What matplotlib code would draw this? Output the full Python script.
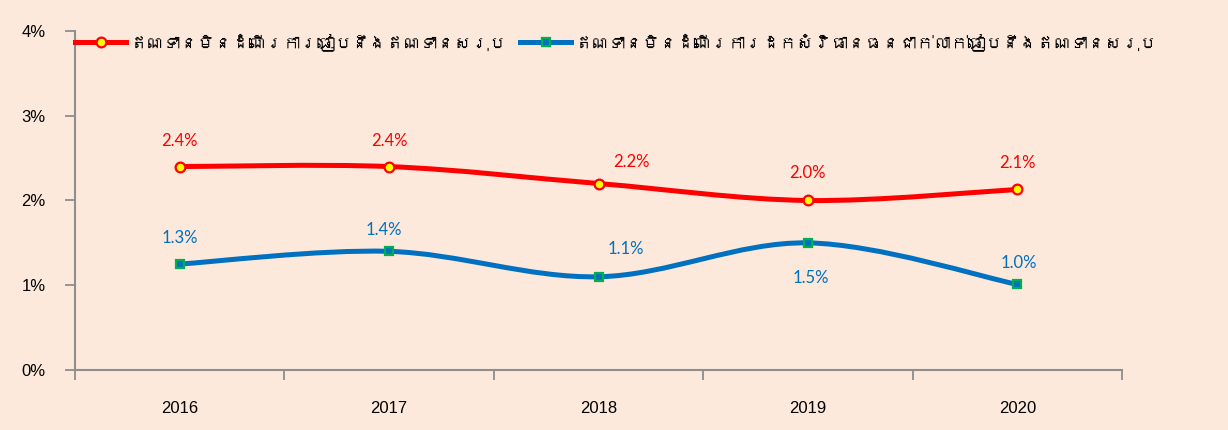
import numpy as np
import matplotlib
matplotlib.use("Agg")
import matplotlib.pyplot as plt
from matplotlib.path import Path
from matplotlib.patches import PathPatch
from matplotlib.lines import Line2D
from matplotlib import font_manager
from matplotlib.ft2font import FT2Font

# Data
years = ["2016", "2017", "2018", "2019", "2020"]
npl_total = [2.4, 2.4, 2.2, 2.0, 2.13]
npl_net = [1.25, 1.40, 1.10, 1.50, 1.01]
npl_total_labels = ["2.4%", "2.4%", "2.2%", "2.0%", "2.1%"]
npl_net_labels = ["1.3%", "1.4%", "1.1%", "1.5%", "1.0%"]
series_names = [
    "ឥណទានមិនដំណើរការធៀបនឹងឥណទានសរុប",
    "ឥណទានមិនដំណើរការដកសំវិធានធនជាក់លាក់ធៀបនឹងឥណទានសរុប",
]
y_ticks = [0, 1, 2, 3, 4]

BG = "#FCE9DC"
RED = "#FF0000"
BLUE = "#0070C0"
GREEN = "#00B050"
GREY = "#8E8E8E"


def find_khmer_font():
    # look for any installed font that has Khmer glyphs
    for f in font_manager.fontManager.ttflist:
        try:
            if 0x1780 in FT2Font(f.fname).get_charmap():
                return f.name
        except Exception:
            continue
    return None


khmer = find_khmer_font()
legend_family = [khmer, "DejaVu Sans"] if khmer else ["DejaVu Sans"]


def smooth_path(xs, ys):
    """Catmull-Rom curve through the points, as cubic bezier segments."""
    pts = np.column_stack([xs, ys]).astype(float)
    ext = np.vstack([pts[0], pts, pts[-1]])
    verts = [tuple(pts[0])]
    codes = [Path.MOVETO]
    for i in range(1, len(ext) - 2):
        p0, p1, p2, p3 = ext[i - 1], ext[i], ext[i + 1], ext[i + 2]
        c1 = p1 + (p2 - p0) / 6.0
        c2 = p2 - (p3 - p1) / 6.0
        verts += [tuple(c1), tuple(c2), tuple(p2)]
        codes += [Path.CURVE4] * 3
    return Path(verts, codes)


fig = plt.figure(figsize=(12.28, 4.30), dpi=100, facecolor=BG)
ax = fig.add_axes([0.0611, 0.1395, 0.8526, 0.7885], facecolor=BG)

x = np.arange(len(years))

for ys, col in [(npl_total, RED), (npl_net, BLUE)]:
    patch = PathPatch(smooth_path(x, ys), facecolor="none", edgecolor=col,
                      lw=3.6, capstyle="round", joinstyle="round", zorder=3)
    ax.add_patch(patch)

ax.plot(x, npl_total, ls="none", marker="o", ms=7, mfc="#FFFF00", mec=RED, mew=1.6, zorder=4)
ax.plot(x, npl_net, ls="none", marker="s", ms=6, mfc=BLUE, mec=GREEN, mew=1.6, zorder=4)

# data labels (offsets in pixels)
red_off = [(0, 26), (0, 26), (33, 22), (0, 27), (0, 26)]
blue_off = [(0, 26), (-5, 21), (27, 28), (3, -35), (2, 21)]
for i in range(len(years)):
    ax.annotate(npl_total_labels[i], (x[i], npl_total[i]), xytext=red_off[i],
                textcoords="offset pixels", ha="center", va="center",
                color=RED, fontsize=12, family="Lato")
    ax.annotate(npl_net_labels[i], (x[i], npl_net[i]), xytext=blue_off[i],
                textcoords="offset pixels", ha="center", va="center",
                color=BLUE, fontsize=12, family="Lato")

ax.set_xlim(-0.5, len(years) - 0.5)
ax.set_ylim(0, 4)
ax.set_yticks(y_ticks)
ax.set_yticklabels([f"{v}%" for v in y_ticks], fontsize=12, family="Liberation Sans")
ax.set_xticks(np.arange(-0.5, len(years)), minor=False)
ax.set_xticklabels([])
ax.set_xticks(x, minor=True)
ax.set_xticklabels(years, minor=True, fontsize=12,
                   family=["Liberation Sans Narrow", "Liberation Sans"])
ax.tick_params(axis="x", which="minor", length=0, pad=22)
ax.tick_params(axis="x", which="major", length=7, width=1.3, color=GREY, direction="out")
ax.tick_params(axis="y", length=7, width=1.3, color=GREY, direction="out", pad=14)

for s in ["top", "right"]:
    ax.spines[s].set_visible(False)
for s in ["left", "bottom"]:
    ax.spines[s].set_color(GREY)
    ax.spines[s].set_linewidth(1.5)

handles = [
    Line2D([], [], color=RED, lw=3.6, marker="o", ms=7, mfc="#FFFF00", mec=RED, mew=1.6),
    Line2D([], [], color=BLUE, lw=3.6, marker="s", ms=6, mfc=BLUE, mec=GREEN, mew=1.6),
]
leg = ax.legend(handles, series_names, loc="center left", bbox_to_anchor=(0.0, 0.967),
                frameon=False, ncol=2, handlelength=3.0, handletextpad=0.2,
                columnspacing=0.8, borderaxespad=0, borderpad=0,
                prop={"family": legend_family, "size": 12.3})

fig.savefig("out.png", dpi=100, facecolor=BG)
